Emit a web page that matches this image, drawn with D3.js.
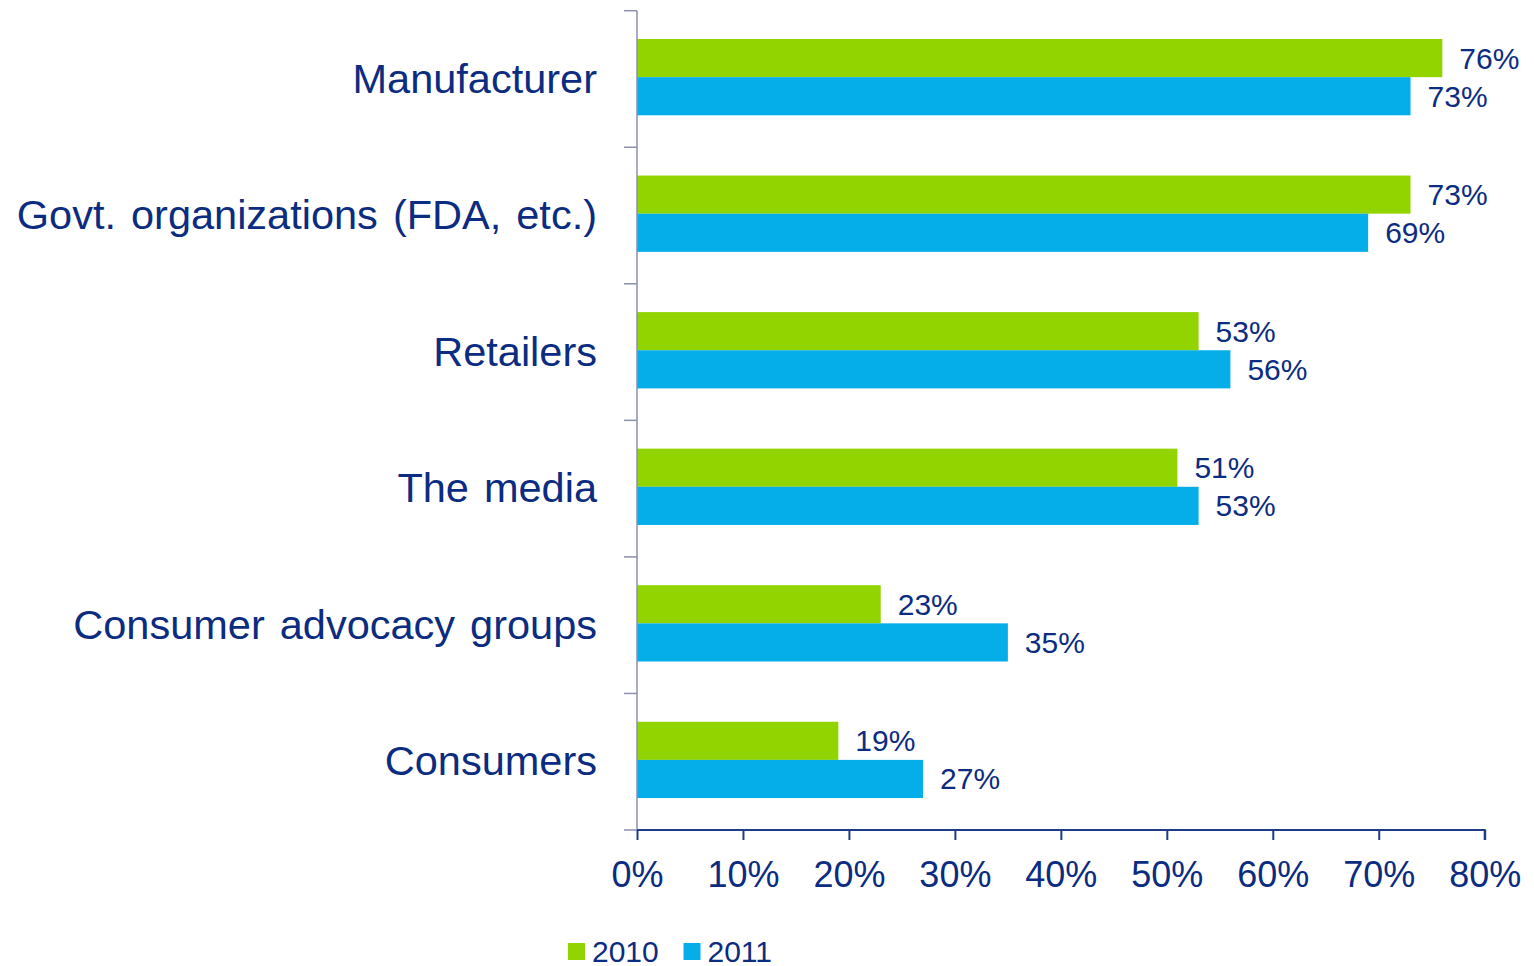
<!DOCTYPE html>
<html>
<head>
<meta charset="utf-8">
<script src="https://cdn.jsdelivr.net/npm/d3@7"></script>
<style>
  body { margin: 0; background: #fff; }
  text { font-family: "Liberation Sans", Arial, sans-serif; fill: #0b2c80; }
</style>
</head>
<body>
<div id="chart"></div>
<script>
var categories = ['Manufacturer', 'Govt. organizations (FDA, etc.)', 'Retailers',
  'The media', 'Consumer advocacy groups', 'Consumers'];
var series = ['2010', '2011'];
var values2010 = [76, 73, 53, 51, 23, 19];
var values2011 = [73, 69, 56, 53, 35, 27];
var xTicks = [0, 10, 20, 30, 40, 50, 60, 70, 80];
var colours = {'2010': '#92d400', '2011': '#05aee9'};

var width = 1534, height = 966;

var svg = d3.select('#chart')
  .append('svg')
  .attr('width', width)
  .attr('height', height);

var x = d3.scaleLinear().domain([0, 80]).range([637, 1484.7]);
var y = d3.scaleBand().domain(categories).range([10.7, 830]);
var ySub = d3.scaleBand().domain(series).range([28.3, 104.6]);

var rows = categories.map(function(c, i){
  return {cat: c, values: [
    {s: '2010', v: values2010[i]},
    {s: '2011', v: values2011[i]}
  ]};
});

var groups = svg.selectAll('.row').data(rows)
  .enter().append('g')
  .attr('class', 'row')
  .attr('transform', function(d){ return 'translate(0,' + y(d.cat) + ')'; });

groups.selectAll('rect').data(function(d){ return d.values; })
  .enter().append('rect')
  .attr('x', x(0))
  .attr('y', function(d){ return ySub(d.s); })
  .attr('width', function(d){ return x(d.v) - x(0); })
  .attr('height', ySub.bandwidth())
  .style('fill', function(d){ return colours[d.s]; });

groups.selectAll('.val').data(function(d){ return d.values; })
  .enter().append('text')
  .attr('class', 'val')
  .attr('x', function(d){ return x(d.v) + 17; })
  .attr('y', function(d){ return ySub(d.s) + ySub.bandwidth()/2 + 10.5; })
  .style('font-size', '30px')
  .text(function(d){ return d.v + '%'; });

// category labels
groups.append('text')
  .attr('x', 597)
  .attr('y', y.bandwidth()/2 + 13.7)
  .attr('text-anchor', 'end')
  .style('font-size', '41.5px')
  .style('word-spacing', '3.5px')
  .text(function(d){ return d.cat; });

// y axis (ticks at band edges)
var yEdges = categories.map(function(c){ return y(c); }).concat([y.range()[1]]);
svg.append('line')
  .attr('x1', 637).attr('x2', 637)
  .attr('y1', y.range()[0]).attr('y2', y.range()[1])
  .style('stroke', '#8c8fb0').style('stroke-width', 1.5);
svg.selectAll('.ytick').data(yEdges)
  .enter().append('line')
  .attr('x1', 624).attr('x2', 637)
  .attr('y1', function(d){ return d; }).attr('y2', function(d){ return d; })
  .style('stroke', '#8c8fb0').style('stroke-width', 1.5);

// x axis
var xAxis = svg.append('g')
  .attr('transform', 'translate(0,830)')
  .call(d3.axisBottom(x).tickValues(xTicks).tickSize(10).tickPadding(21)
    .tickFormat(function(d){ return d + '%'; }));
xAxis.select('.domain').attr('d', 'M' + x(0) + ',0H' + x(80) + 'V10')
  .style('stroke', '#1f3c88').style('stroke-width', 2);
xAxis.selectAll('.tick line').style('stroke', '#1f3c88').style('stroke-width', 2);
xAxis.selectAll('.tick text')
  .style('font-size', '36px')
  .style('font-family', '"Liberation Sans", Arial, sans-serif')
  .attr('fill', '#0b2c80');

// legend
var legend = svg.selectAll('.legend').data(series)
  .enter().append('g')
  .attr('class', 'legend')
  .attr('transform', function(d, i){ return 'translate(' + (568 + i*115.5) + ',943)'; });
legend.append('rect')
  .attr('width', 17).attr('height', 17)
  .style('fill', function(d){ return colours[d]; });
legend.append('text')
  .attr('x', 24).attr('y', 18.5)
  .style('font-size', '30px')
  .text(function(d){ return d; });
</script>
</body>
</html>
